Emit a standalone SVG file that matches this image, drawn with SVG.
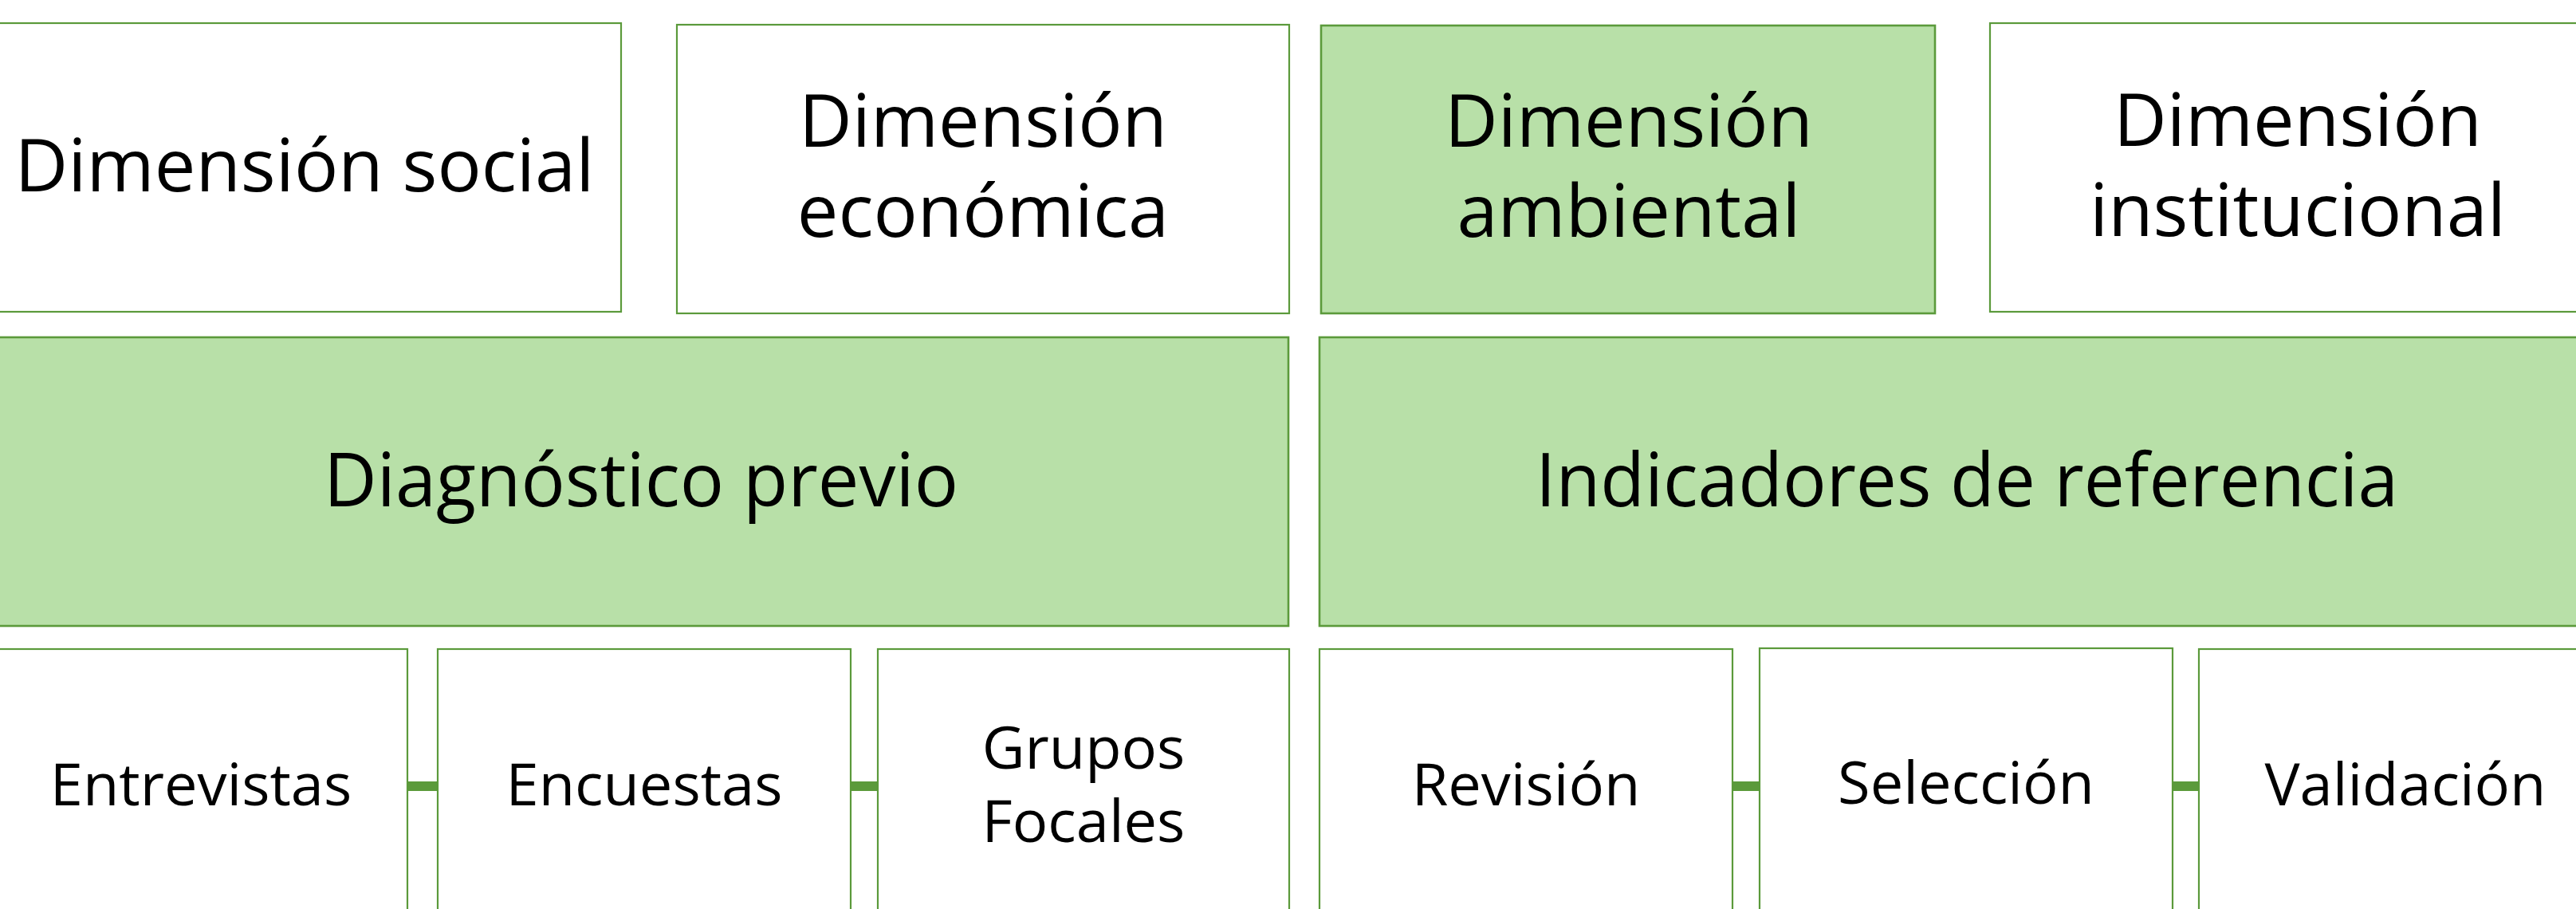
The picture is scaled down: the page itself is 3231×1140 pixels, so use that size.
<svg xmlns="http://www.w3.org/2000/svg" width="3231" height="1140" viewBox="0 0 3231 1140">
<style>
.w{fill:#FFFFFF;stroke:#5B9A3B;stroke-width:2.2}
.g{fill:#B8E0A8;stroke:#5B9A3B;stroke-width:2.6}
.t{font-family:"Open Sans","Noto Sans","Liberation Sans",sans-serif;fill:#000000;text-anchor:middle}
.big{font-size:92px}
.mid{font-size:94px}
.sm{font-size:74px}
.bar{fill:#5B9A3B}
</style>
<rect x="0" y="0" width="3231" height="1140" fill="#FFFFFF"/>
<g id="connectors">
<rect class="bar" x="511" y="980" width="38" height="12"/>
<rect class="bar" x="1067" y="980" width="34" height="12"/>
<rect class="bar" x="2173" y="980" width="34" height="12"/>
<rect class="bar" x="2725" y="980" width="33" height="12"/>
</g>
<g id="dim-social">
<rect class="w" x="-15" y="29" width="794" height="362"/>
<text class="t big" x="382" y="240">Dimensión social</text>
</g>
<g id="dim-economica">
<rect class="w" x="849" y="31" width="768" height="362"/>
<text class="t big" x="1233" y="184">Dimensión</text>
<text class="t big" x="1233" y="297">económica</text>
</g>
<g id="dim-ambiental">
<rect class="g" x="1657" y="32" width="770" height="361"/>
<text class="t big" x="2043" y="184">Dimensión</text>
<text class="t big" x="2043" y="297">ambiental</text>
</g>
<g id="dim-institucional">
<rect class="w" x="2496" y="29" width="772" height="362"/>
<text class="t big" x="2882" y="183">Dimensión</text>
<text class="t big" x="2882" y="296">institucional</text>
</g>
<g id="diagnostico">
<rect class="g" x="-8" y="423" width="1624" height="362"/>
<text class="t mid" x="804" y="635" textLength="796" lengthAdjust="spacingAndGlyphs">Diagnóstico previo</text>
</g>
<g id="indicadores">
<rect class="g" x="1655" y="423" width="1620" height="362"/>
<text class="t mid" x="2467" y="635" textLength="1082" lengthAdjust="spacingAndGlyphs">Indicadores de referencia</text>
</g>
<g id="entrevistas">
<rect class="w" x="-9" y="814" width="520" height="346"/>
<text class="t sm" x="252" y="1010">Entrevistas</text>
</g>
<g id="encuestas">
<rect class="w" x="549" y="814" width="518" height="346"/>
<text class="t sm" x="808" y="1010">Encuestas</text>
</g>
<g id="grupos">
<rect class="w" x="1101" y="814" width="516" height="346"/>
<text class="t sm" x="1359" y="964">Grupos</text>
<text class="t sm" x="1359" y="1056">Focales</text>
</g>
<g id="revision">
<rect class="w" x="1655" y="814" width="518" height="346"/>
<text class="t sm" x="1914" y="1010">Revisión</text>
</g>
<g id="seleccion">
<rect class="w" x="2207" y="813" width="518" height="347"/>
<text class="t sm" x="2466" y="1008">Selección</text>
</g>
<g id="validacion">
<rect class="w" x="2758" y="814" width="518" height="346"/>
<text class="t sm" x="3017" y="1010">Validación</text>
</g>
</svg>
